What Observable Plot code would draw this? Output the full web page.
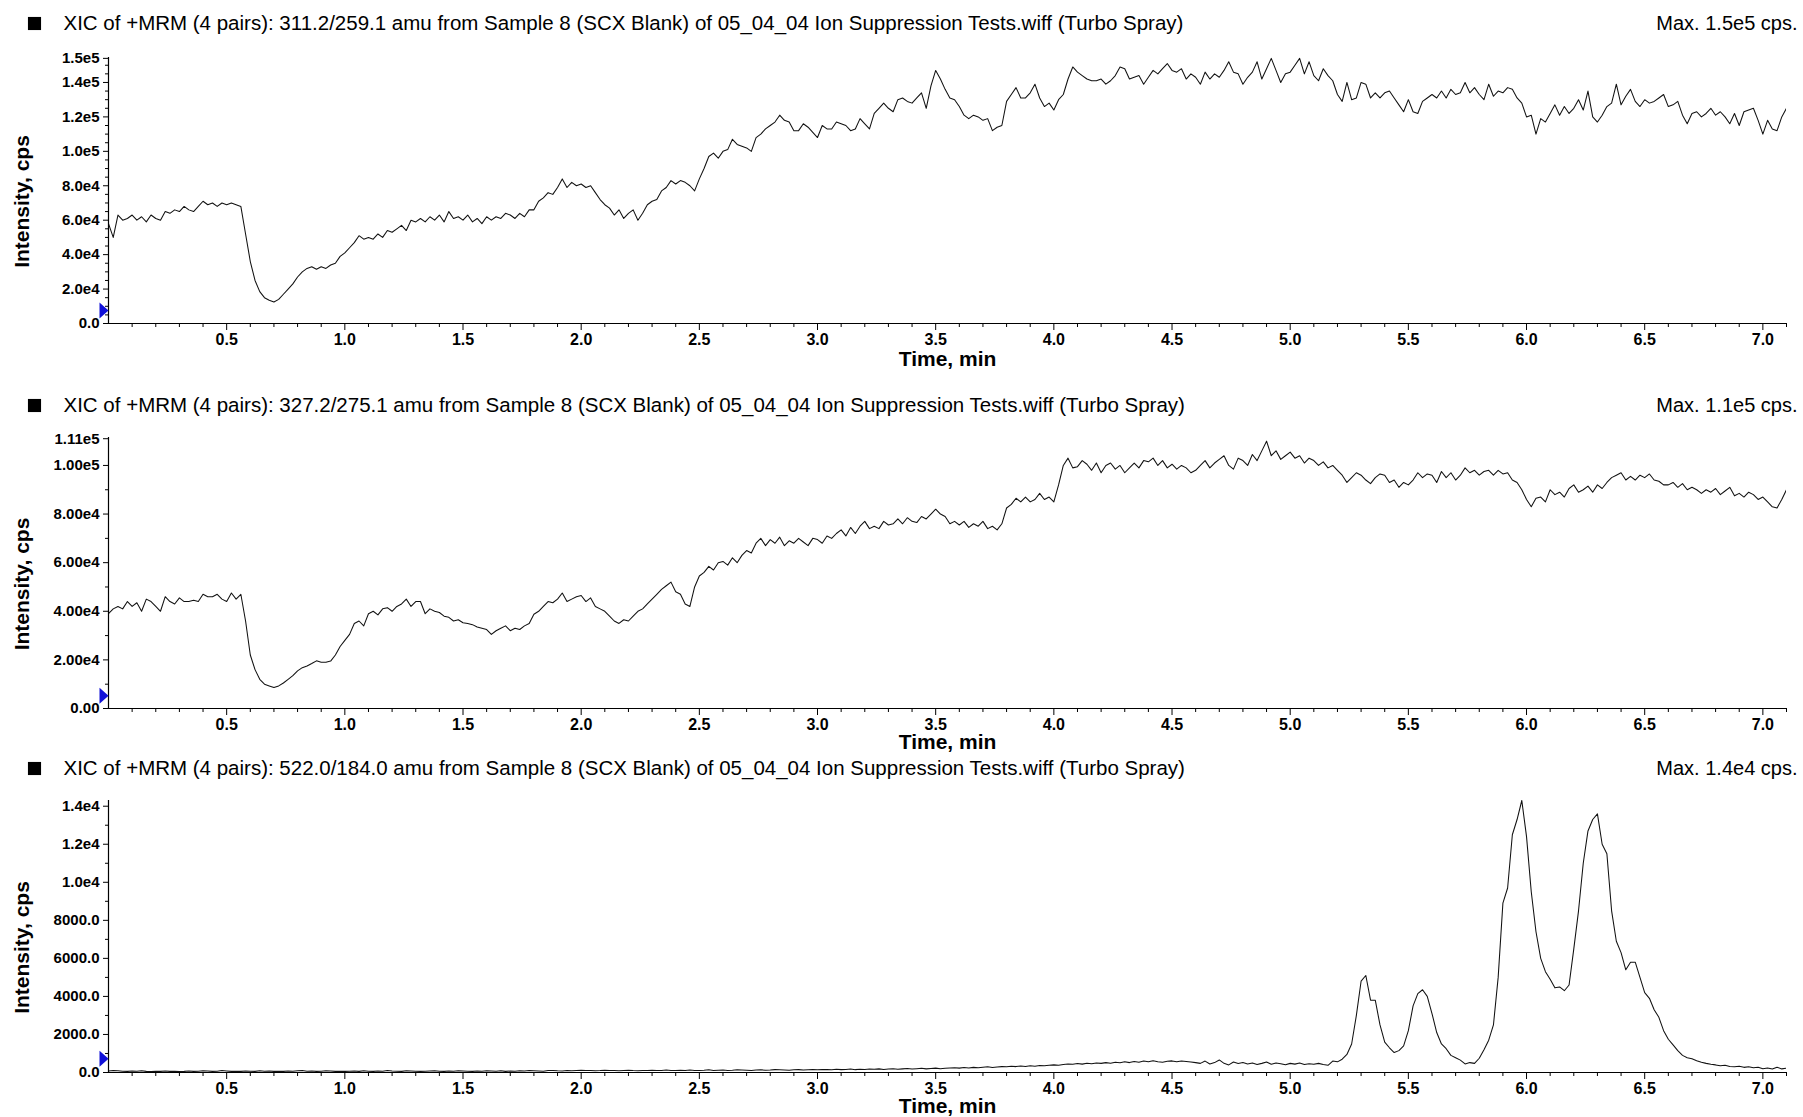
<!DOCTYPE html>
<html><head><meta charset="utf-8">
<script src="https://cdn.jsdelivr.net/npm/d3@7"></script>
<script src="https://cdn.jsdelivr.net/npm/@observablehq/plot@0.6"></script>
<style>
body{margin:0;background:#fff;}
#chart svg{display:block;}
g[aria-label="x-axis tick label"]{font-weight:bold;font-size:16px;}
g[aria-label="y-axis tick label"]{font-weight:bold;font-size:15px;}
</style></head><body><div id="chart"></div>
<script>
// ---- data ----
const scanStep = 0.02;           // minutes between scans
const timeDomain = [0, 7.1];     // minutes

// XIC 311.2/259.1 (thousands of cps)
const xic311 = [
58,50,63,60,61,63,60,62,59,63,
61,60,65,64,66,65,68,66,65,68,
71,69,70,68,70,69,70,69,68,52,
36,25,18.5,15,13.5,12.5,14,17,20,23,
27,30,32,33,31.5,33,32,34,35,39,
41,44,47,51,49,50,49,52,50,54,
53,55,57,54,60,59,61,59,62,60,
63,59,65,61,62,60,63,59,61,58,
62,60,62,61,64,63,61,64,62,66,
66,71,73,76,75,79,84,79,82,80,
81,79,80,76,72,69,67,63,66,61,
64,66,60,64,69,71,72,77,79,83,
81,83,82,80,77,84,90,97,99,96,
100,101,107,104,103,102,100,108,110,113,
115,117,121,118,117,112,112,116,114,111,
108,115,113,113,117,116,115,112,113,119,
116,113,122,125,128,125,123,130,131,129,
128,131,134,125,138,147,142,136,131,130,
126,121,119,121,120,118,119,112,114,115,
129,133,137,131,131,134,139,131,126,128,
124,130,133,142,149,146,144,142,141,141,
142,139,141,144,149,148,142,143,144,139,
143,147,145,148,151,147,146,148,142,145,
143,139,146,142,145,143,147,152,146,145,
139,143,146,152,142,148,154,147,140,145,
146,150,154,145,152,144,141,148,144,141,
133,129,140,130,131,140,139,131,134,131,
134,135,131,127,123,130,123,122,129,131,
133,131,135,131,136,133,134,140,134,137,
133,130,139,132,135,134,137,136,131,128,
120,121,110,119,117,122,127,121,126,122,
125,130,124,135,120,117,121,126,128,139,
127,132,136,129,126,130,128,129,131,133,
126,127,129,121,116,122,123,120,122,125,
121,123,120,116,122,115,123,124,125,118,
110,118,113,112,120,125
];

// XIC 327.2/275.1 (thousands of cps)
const xic327 = [
39,41,42,41,44,42,43.5,40,45,44,
42,40,46,44,43,45.5,44,44,44.5,44,
47,46,46,47,45,44,47.5,45,47,36,
22,16,12,10,9.3,8.6,9.3,10.5,12,13.5,
15.5,16.8,17.5,18.5,19.6,19,19,19.5,22,25.5,
28,30.5,35,36,34,39,40,38.5,41,41.5,
40,42,43,45,42,44,44,39,41,40,
39.5,38,37.5,36,36.5,35.3,35,34.5,33.5,33,
32.5,30.5,32,33,34,32,33,32.5,34,35,
38.8,40,42,44,43.5,45,47.5,44,45,46,
46.5,44,45.5,42,41,40,38,36,35,36.5,
36,38,40,41,43,45,47,49,50.5,52,
48,47,43,42,50,54.5,56,58.5,57,60,
60.5,59,62,60,63,65,64,68,70,67,
69.5,68,70.5,67,69,68,70,68.5,67,70,
69.5,68,71,70,72,73.5,71,74.5,72,75,
77,74,75,74,77,75.5,76,78,76,78.5,
77,76.5,79,78,80,82,80,79,76,77,
75.5,77,74.5,76,75,77,74,75,73.5,76,
82.5,84,86.5,85,87,85,86,88.5,86,87,
85,92,100,103,99,99.5,102,100.5,98,101,
97,100,101,98.5,100,97,99,101,99,102,
101.5,103,100,102,99,100.5,98.5,100,99,97,
98,100,102,99,101,102.5,104,100,98.5,103,
102,100,104.5,102,106,110,104,106,102.5,104,
105.5,103,104,101,103,102,100,101.5,99,100,
98,96,93,95,97,96,94,92.5,95,96.5,
96,93,94,91,93,92,94,97,95,96.5,
96,93,97.5,95,97,94,96,99,97,98,
96,97.5,98,96,98,96.5,97,94,93,90,
86,83,86.5,87,85,90,88,89,87,90.5,
92,89,90,91.5,89,92,90.5,93,95,96,
97,94,95.5,94,96,95,96.5,94,93.5,92,
92,93,91,92.5,90,91,90,88.5,90,89,
90.5,88,89.5,91,87.5,88.5,87,89,88,86,
87,85,83,82.5,86,90
];

// XIC 522.0/184.0 (cps)
const xic522 = [
80,110,90,70,60,80,70,90,60,50,
70,60,80,60,70,50,60,80,60,70,
90,80,60,70,100,80,60,70,60,80,
70,60,90,70,80,60,70,60,80,70,
90,100,70,80,60,70,90,80,60,70,
60,70,80,60,90,70,60,80,70,100,
80,70,60,90,80,70,60,70,80,90,
70,60,80,70,90,80,70,60,80,70,
90,80,70,90,60,80,70,90,80,100,
90,80,70,100,110,90,80,100,90,110,
120,100,110,90,100,120,110,100,90,110,
120,100,90,110,100,120,110,100,130,110,
100,120,110,130,100,110,120,140,110,120,
130,110,120,140,130,120,110,130,140,120,
130,150,140,130,120,140,150,130,140,150,
140,160,150,140,170,150,160,180,150,170,
160,180,170,190,160,180,200,170,190,210,
180,200,220,190,210,230,200,220,240,250,
230,260,240,270,250,280,300,260,290,310,
300,330,310,340,320,350,330,370,350,380,
400,380,420,450,430,470,440,490,460,500,
480,520,490,540,510,560,520,580,540,600,
560,620,570,540,590,610,560,600,580,550,
520,480,600,450,520,660,480,400,550,470,
520,450,500,420,480,550,430,500,460,410,
480,440,500,420,460,430,480,420,380,600,
560,700,950,1500,3000,4800,5100,3800,3800,2500,
1600,1300,1050,1150,1400,2200,3500,4150,4350,4000,
3100,2100,1500,1250,900,780,650,450,520,480,
750,1200,1700,2500,5000,8900,9700,12500,13300,14300,
12400,9500,7400,6000,5300,4900,4450,4500,4300,4600,
6500,8500,11000,12700,13300,13600,12000,11500,8500,6900,
6300,5400,5800,5800,5000,4200,3900,3300,2900,2200,
1750,1450,1150,900,780,720,620,540,480,430,
400,350,380,320,300,330,270,300,250,280,
200,240,180,280,190,230
];

const titles = [
  "XIC of +MRM (4 pairs): 311.2/259.1 amu from Sample 8 (SCX Blank) of 05_04_04 Ion Suppression Tests.wiff (Turbo Spray)",
  "XIC of +MRM (4 pairs): 327.2/275.1 amu from Sample 8 (SCX Blank) of 05_04_04 Ion Suppression Tests.wiff (Turbo Spray)",
  "XIC of +MRM (4 pairs): 522.0/184.0 amu from Sample 8 (SCX Blank) of 05_04_04 Ion Suppression Tests.wiff (Turbo Spray)"
];
const maxLabels = ["Max. 1.5e5 cps.", "Max. 1.1e5 cps.", "Max. 1.4e4 cps."];
const xLabel = "Time, min";
const yLabel = "Intensity, cps";

const xMajor = [0.5,1.0,1.5,2.0,2.5,3.0,3.5,4.0,4.5,5.0,5.5,6.0,6.5,7.0];
const xMajorLabels = ["0.5","1.0","1.5","2.0","2.5","3.0","3.5","4.0","4.5","5.0","5.5","6.0","6.5","7.0"];
const xMinor = [0.1,0.2,0.3,0.4,0.6,0.7,0.8,0.9,1.1,1.2,1.3,1.4,1.6,1.7,1.8,1.9,2.1,2.2,2.3,2.4,2.6,2.7,2.8,2.9,
  3.1,3.2,3.3,3.4,3.6,3.7,3.8,3.9,4.1,4.2,4.3,4.4,4.6,4.7,4.8,4.9,5.1,5.2,5.3,5.4,5.6,5.7,5.8,5.9,
  6.1,6.2,6.3,6.4,6.6,6.7,6.8,6.9,7.1];

const yTicks1 = [0,20000,40000,60000,80000,100000,120000,140000,154000];
const yTickLabels1 = ["0.0","2.0e4","4.0e4","6.0e4","8.0e4","1.0e5","1.2e5","1.4e5","1.5e5"];
const yMinor1 = [5000,10000,15000,25000,30000,35000,45000,50000,55000,65000,70000,75000,85000,90000,95000,105000,110000,115000,125000,130000,135000,145000,150000];

const yTicks2 = [0,20000,40000,60000,80000,100000,111000];
const yTickLabels2 = ["0.00","2.00e4","4.00e4","6.00e4","8.00e4","1.00e5","1.11e5"];
const yMinor2 = [10000,30000,50000,70000,90000];

const yTicks3 = [0,2000,4000,6000,8000,10000,12000,14000];
const yTickLabels3 = ["0.0","2000.0","4000.0","6000.0","8000.0","1.0e4","1.2e4","1.4e4"];
const yMinor3 = [1000,3000,5000,7000,9000,11000,13000];

const yMax = [154500, 111500, 14300];
const valueScale = [1000, 1000, 1];
const markerLevels = [7500, 5200, 720];

// ---- drawing ----
const font = "'Liberation Sans', Arial, Helvetica, sans-serif";
const rightTri = {draw(ctx) { ctx.moveTo(-4.5, -8); ctx.lineTo(4.5, 0); ctx.lineTo(-4.5, 8); ctx.closePath(); }};
const xLabelMap = new Map(xMajor.map((d, i) => [d, xMajorLabels[i]]));

function panel(k, values, yTicks, yTickLabels, yMinor, layout) {
  const data = values.map((v, i) => ({t: i * scanStep, v: v * valueScale[k]}));
  const yLabelMap = new Map(yTicks.map((d, i) => [d, yTickLabels[i]]));
  return Plot.plot({
    width: 1803, height: layout.height,
    marginLeft: 108, marginRight: 17, marginTop: layout.marginTop, marginBottom: layout.marginBottom,
    style: {fontFamily: font, background: "#fff", color: "#000"},
    x: {domain: timeDomain, label: null},
    y: {domain: [0, yMax[k]], label: null},
    marks: [
      Plot.line(data, {x: "t", y: "v", stroke: "#111", strokeWidth: 1.05, clip: true}),
      Plot.ruleX([0], {stroke: "#000", strokeWidth: 1.2}),
      Plot.ruleY([0], {stroke: "#000", strokeWidth: 1.2}),
      Plot.axisX(xMajor, {tickSize: 7, tickPadding: 3, tickFormat: d => xLabelMap.get(d), label: null, fontSize: 16, fontWeight: "bold"}),
      Plot.axisX(xMinor, {tickSize: 4, tickFormat: () => "", label: null}),
      Plot.axisY(yTicks, {tickSize: 5, tickPadding: 4, tickFormat: d => yLabelMap.get(d), label: null, fontSize: 15, fontWeight: "bold"}),
      Plot.axisY(yMinor, {tickSize: 3, tickFormat: () => "", label: null}),
      Plot.dot([{t: 0, v: markerLevels[k]}], {x: "t", y: "v", dx: -4.5, symbol: rightTri, fill: "#1010d8", stroke: "none"}),
      Plot.dot([0], {frameAnchor: "top-left", dx: -74, dy: layout.titleDy, symbol: "square", r: 7.4, fill: "#000", stroke: "none"}),
      Plot.text([titles[k]], {text: d => d, frameAnchor: "top-left", dx: -45, dy: layout.titleDy, textAnchor: "start", lineAnchor: "middle", fontSize: 20.5}),
      Plot.text([maxLabels[k]], {text: d => d, frameAnchor: "top-right", dx: 11, dy: layout.titleDy, textAnchor: "end", lineAnchor: "middle", fontSize: 20}),
      Plot.text([yLabel], {text: d => d, frameAnchor: "left", dx: -86, dy: 11, rotate: -90, textAnchor: "middle", fontSize: 21, fontWeight: "bold", lineAnchor: "middle"}),
      Plot.text([xLabel], {text: d => d, frameAnchor: "bottom", dy: layout.xLabelDy, textAnchor: "middle", fontSize: 21, fontWeight: "bold", lineAnchor: "middle"})
    ]
  });
}

const root = document.getElementById("chart");
root.appendChild(panel(0, xic311, yTicks1, yTickLabels1, yMinor1, {height: 373, marginTop: 57, marginBottom: 50, titleDy: -34, xLabelDy: 36}));
root.appendChild(panel(1, xic327, yTicks2, yTickLabels2, yMinor2, {height: 380, marginTop: 64, marginBottom: 45, titleDy: -32, xLabelDy: 34}));
root.appendChild(panel(2, xic522, yTicks3, yTickLabels3, yMinor3, {height: 364, marginTop: 47, marginBottom: 45, titleDy: -32, xLabelDy: 34}));
</script>
</body></html>
